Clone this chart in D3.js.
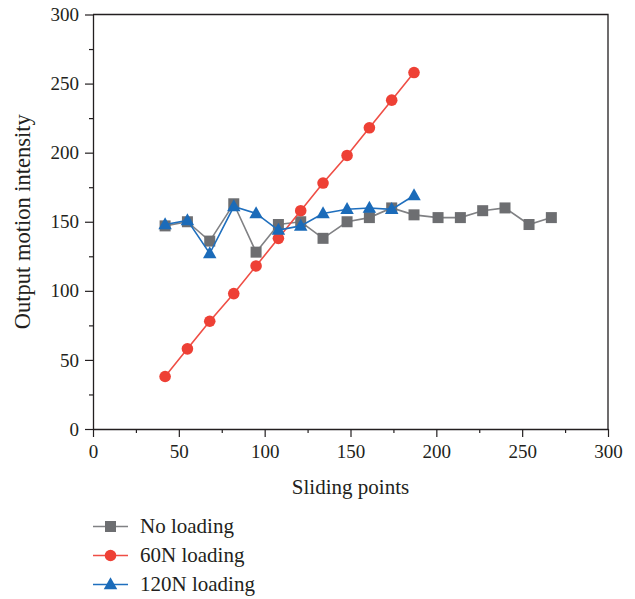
<!DOCTYPE html>
<html>
<head>
<meta charset="utf-8">
<script src="https://cdn.jsdelivr.net/npm/d3@7"></script>
<style>
  html, body { margin: 0; padding: 0; background: #fff; }
  svg { display: block; }
  text { font-family: "Liberation Serif", "Times New Roman", serif; fill: #231f20; }
</style>
</head>
<body>
<svg id="chart" width="635" height="599"></svg>
<script>
// Sliding point positions for each series
const xNoLoad = [42, 55, 68, 82, 95, 108, 121, 134, 148, 161, 174, 187, 201, 214, 227, 240, 254, 267];
const yNoLoad = [147, 150, 136, 163, 128, 148, 150, 138, 150, 153, 160, 155, 153, 153, 158, 160, 148, 153];

const x60N = [42, 55, 68, 82, 95, 108, 121, 134, 148, 161, 174, 187];
const y60N = [38, 58, 78, 98, 118, 138, 158, 178, 198, 218, 238, 258];

const x120N = [42, 55, 68, 82, 95, 108, 121, 134, 148, 161, 174, 187];
const y120N = [148, 151, 127, 161, 156, 144, 147, 156, 159, 160, 159, 169];

const xTicks = [0, 50, 100, 150, 200, 250, 300];
const yTicks = [0, 50, 100, 150, 200, 250, 300];
const xMinor = [25, 75, 125, 175, 225, 275];
const yMinor = [25, 75, 125, 175, 225, 275];

const seriesNames = ["No loading", "60N loading", "120N loading"];

const series = [
  { name: seriesNames[0], xs: xNoLoad, ys: yNoLoad, line: "#808184", fill: "#6d6e71", shape: "square" },
  { name: seriesNames[1], xs: x60N, ys: y60N, line: "#ef4e45", fill: "#ee4035", shape: "circle" },
  { name: seriesNames[2], xs: x120N, ys: y120N, line: "#1f6fbe", fill: "#1b6bb9", shape: "triangle" }
];

const svg = d3.select("#chart");
const plotLeft = 93, plotRight = 608, plotTop = 14.5, plotBottom = 429;

const x = d3.scaleLinear().domain([0, 300]).range([plotLeft, plotRight]);
const y = d3.scaleLinear().domain([0, 300]).range([plotBottom, plotTop]);

const axisColor = "#231f20";

// frame: top and right edges
svg.append("path")
  .attr("d", `M${plotLeft},${plotTop}H${plotRight}V${plotBottom}`)
  .attr("fill", "none").attr("stroke", axisColor).attr("stroke-width", 1.3);

// minor ticks
const gxMinor = svg.append("g").attr("transform", `translate(0,${plotBottom})`)
  .call(d3.axisBottom(x).tickValues(xMinor).tickSize(4).tickFormat(""));
const gyMinor = svg.append("g").attr("transform", `translate(${plotLeft},0)`)
  .call(d3.axisLeft(y).tickValues(yMinor).tickSize(4).tickFormat(""));
[gxMinor, gyMinor].forEach(g => {
  g.select(".domain").remove();
  g.selectAll("line").attr("stroke", axisColor).attr("stroke-width", 1.2);
});

// major axes
const gx = svg.append("g").attr("transform", `translate(0,${plotBottom})`)
  .call(d3.axisBottom(x).tickValues(xTicks).tickSize(8).tickSizeOuter(0).tickPadding(7).tickFormat(d3.format("d")));
const gy = svg.append("g").attr("transform", `translate(${plotLeft},0)`)
  .call(d3.axisLeft(y).tickValues(yTicks).tickSize(8).tickSizeOuter(0).tickPadding(6).tickFormat(d3.format("d")));
[gx, gy].forEach(g => {
  g.select(".domain").attr("stroke", axisColor).attr("stroke-width", 1.3);
  g.selectAll("line").attr("stroke", axisColor).attr("stroke-width", 1.2);
  g.selectAll("text")
    .style("font-family", '"Liberation Serif", "Times New Roman", serif')
    .style("font-size", "19px").attr("fill", axisColor);
});
gx.selectAll("text").attr("dy", "0.75em");

// axis titles
svg.append("text")
  .attr("x", (plotLeft + plotRight) / 2).attr("y", 494)
  .attr("text-anchor", "middle").style("font-size", "21px")
  .text("Sliding points");
svg.append("text")
  .attr("transform", `translate(30,${(plotTop + plotBottom) / 2}) rotate(-90)`)
  .attr("text-anchor", "middle").style("font-size", "22.5px")
  .text("Output motion intensity");

function drawMarker(g, shape, cx, cy, fill, scale = 1) {
  if (shape === "square") {
    const s = 11 * scale;
    g.append("rect").attr("x", cx - s / 2).attr("y", cy - s / 2)
      .attr("width", s).attr("height", s).attr("fill", fill);
  } else if (shape === "circle") {
    g.append("circle").attr("cx", cx).attr("cy", cy).attr("r", 5.8 * scale).attr("fill", fill);
  } else {
    const w = 13.5 * scale, h = 12 * scale;
    g.append("path")
      .attr("d", `M${cx},${cy - h * 0.6}L${cx + w / 2},${cy + h * 0.4}L${cx - w / 2},${cy + h * 0.4}Z`)
      .attr("fill", fill);
  }
}

const line = d3.line().x(d => x(d[0])).y(d => y(d[1]));

series.forEach(s => {
  const pts = s.xs.map((v, i) => [v, s.ys[i]]);
  const g = svg.append("g");
  g.append("path").datum(pts).attr("d", line)
    .attr("fill", "none").attr("stroke", s.line).attr("stroke-width", 1.6);
  pts.forEach(p => drawMarker(g, s.shape, x(p[0]), y(p[1]), s.fill));
});

// legend
const legendY = [526.5, 555.5, 584.5];
series.forEach((s, i) => {
  const g = svg.append("g");
  const ly = legendY[i];
  g.append("line").attr("x1", 93).attr("x2", 128).attr("y1", ly).attr("y2", ly)
    .attr("stroke", s.line).attr("stroke-width", 1.6);
  drawMarker(g, s.shape, 110.5, ly, s.fill);
  g.append("text").attr("x", 140).attr("y", ly + 6.5)
    .style("font-size", "21px").text(s.name);
});
</script>
</body>
</html>
